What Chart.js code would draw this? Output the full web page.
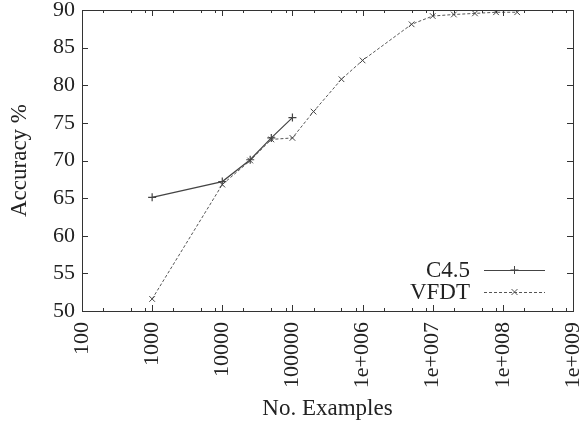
<!DOCTYPE html>
<html>
<head>
<meta charset="utf-8">
<script src="https://cdn.jsdelivr.net/npm/chart.js@4"></script>
<style>
  html, body { margin: 0; padding: 0; background: #fff; }
  #wrap { width: 581px; height: 425px; }
</style>
</head>
<body>
<div id="wrap"><canvas id="acc"></canvas></div>
<script>
// data
const c45X = [1000, 10000, 25000, 50000, 100000];
const c45Y = [65.1, 67.2, 70.1, 73.0, 75.7];
const vfdtX = [1000, 10000, 25000, 50000, 100000, 200000, 500000, 1e6, 5e6, 1e7, 2e7, 4e7, 8e7, 1.6e8];
const vfdtY = [51.6, 66.8, 70.0, 72.8, 73.0, 76.5, 80.8, 83.3, 88.1, 89.2, 89.4, 89.55, 89.7, 89.7];
const xDecades = [2, 3, 4, 5, 6, 7, 8, 9];
const xMinor = [2, 5, 8];
const yTicks = [50, 55, 60, 65, 70, 75, 80, 85, 90];

const FONT = "'Liberation Serif', 'DejaVu Serif', serif";
const INK = "#333";

const toPts = (xs, ys) => xs.map((x, i) => ({ x: x, y: ys[i] }));

const fmtX = v => {
    const e = Math.round(Math.log10(v));
    if (e < 6) return String(Math.round(v));
    return "1e+" + String(e).padStart(3, "0");
};

// gnuplot style: inward ticks on all four sides + legend inside plot
const gnuplotBits = {
    id: "gnuplotBits",
    afterDraw(chart) {
        const ctx = chart.ctx;
        const a = chart.chartArea;
        const xs = chart.scales.x, ys = chart.scales.y;
        ctx.save();
        ctx.strokeStyle = INK;
        ctx.lineWidth = 1;
        ctx.beginPath();
        // right + top border
        ctx.moveTo(Math.round(a.right) + 0.5, a.top);
        ctx.lineTo(Math.round(a.right) + 0.5, a.bottom);
        ctx.moveTo(a.left, Math.round(a.top) + 0.5);
        ctx.lineTo(a.right, Math.round(a.top) + 0.5);
        yTicks.forEach(t => {
            const y = Math.round(ys.getPixelForValue(t)) + 0.5;
            ctx.moveTo(a.left, y); ctx.lineTo(a.left + 6, y);
            ctx.moveTo(a.right, y); ctx.lineTo(a.right - 6, y);
        });
        xDecades.forEach(e => {
            const x = Math.round(xs.getPixelForValue(10 ** e)) + 0.5;
            ctx.moveTo(x, a.bottom); ctx.lineTo(x, a.bottom - 6);
            ctx.moveTo(x, a.top); ctx.lineTo(x, a.top + 6);
            if (e < 9) {
                xMinor.forEach(m => {
                    const xm = Math.round(xs.getPixelForValue(m * 10 ** e)) + 0.5;
                    ctx.moveTo(xm, a.bottom); ctx.lineTo(xm, a.bottom - 3);
                    ctx.moveTo(xm, a.top); ctx.lineTo(xm, a.top + 3);
                });
            }
        });
        ctx.stroke();

        // legend
        ctx.font = "23px " + FONT;
        ctx.fillStyle = "#222";
        ctx.textAlign = "right";
        ctx.textBaseline = "middle";
        const rows = [
            { ds: chart.data.datasets[0], y: a.bottom - 41 },
            { ds: chart.data.datasets[1], y: a.bottom - 19 }
        ];
        const x0 = a.left + 402, x1 = a.left + 463;
        rows.forEach(r => {
            ctx.fillText(r.ds.label, a.left + 388, r.y + 1);
            ctx.strokeStyle = r.ds.borderColor;
            ctx.setLineDash(r.ds.borderDash || []);
            ctx.beginPath();
            ctx.moveTo(x0, r.y + 0.5); ctx.lineTo(x1, r.y + 0.5);
            ctx.stroke();
            ctx.setLineDash([]);
            const cx = (x0 + x1) / 2;
            ctx.beginPath();
            if (r.ds.pointStyle === "cross") {
                ctx.moveTo(cx - 4, r.y); ctx.lineTo(cx + 4, r.y);
                ctx.moveTo(cx, r.y - 4); ctx.lineTo(cx, r.y + 4);
            } else {
                ctx.moveTo(cx - 3, r.y - 3); ctx.lineTo(cx + 3, r.y + 3);
                ctx.moveTo(cx - 3, r.y + 3); ctx.lineTo(cx + 3, r.y - 3);
            }
            ctx.stroke();
        });
        ctx.restore();
    }
};

const ctxAcc = document.getElementById("acc").getContext("2d");
new Chart(ctxAcc, {
    type: "line",
    data: {
        datasets: [
            {
                label: "C4.5",
                data: toPts(c45X, c45Y),
                borderColor: "#444",
                borderWidth: 1.2,
                pointStyle: "cross",
                pointRadius: 4,
                pointBorderColor: "#444",
                pointBorderWidth: 1.2,
                fill: false,
                tension: 0
            },
            {
                label: "VFDT",
                data: toPts(vfdtX, vfdtY),
                borderColor: "#555",
                borderWidth: 1,
                borderDash: [3, 2],
                pointStyle: "crossRot",
                pointRadius: 4,
                pointBorderColor: "#444",
                pointBorderWidth: 1,
                fill: false,
                tension: 0
            }
        ]
    },
    options: {
        responsive: true,
        maintainAspectRatio: false,
        animation: false,
        layout: { padding: { top: 10, right: 8, left: 0, bottom: 0 } },
        plugins: {
            legend: { display: false },
            tooltip: { enabled: false }
        },
        scales: {
            x: {
                type: "logarithmic",
                min: 100,
                max: 1e9,
                afterBuildTicks: scale => {
                    scale.ticks = xDecades.map(e => ({ value: 10 ** e }));
                },
                afterFit: scale => {
                    scale.height = 114;
                    scale.paddingLeft = 0;
                    scale.paddingRight = 0;
                },
                grid: { display: false, drawTicks: false },
                border: { display: true, color: INK, width: 1 },
                ticks: {
                    autoSkip: false,
                    minRotation: 90,
                    maxRotation: 90,
                    padding: 11,
                    color: "#222",
                    font: { family: FONT, size: 22 },
                    callback: v => fmtX(v)
                },
                title: {
                    display: true,
                    text: "No. Examples",
                    color: "#222",
                    font: { family: FONT, size: 23 },
                    padding: { top: 2, bottom: 2 }
                }
            },
            y: {
                min: 50,
                max: 90,
                afterBuildTicks: scale => {
                    scale.ticks = yTicks.map(v => ({ value: v }));
                },
                afterFit: scale => {
                    scale.width = 82;
                    scale.paddingTop = 0;
                    scale.paddingBottom = 0;
                },
                grid: { display: false, drawTicks: false },
                border: { display: true, color: INK, width: 1 },
                ticks: {
                    padding: 7,
                    color: "#222",
                    font: { family: FONT, size: 22 }
                },
                title: {
                    display: true,
                    text: "Accuracy %",
                    color: "#222",
                    font: { family: FONT, size: 23 },
                    padding: { top: 6, bottom: 0 }
                }
            }
        }
    },
    plugins: [gnuplotBits]
});
</script>
</body>
</html>
